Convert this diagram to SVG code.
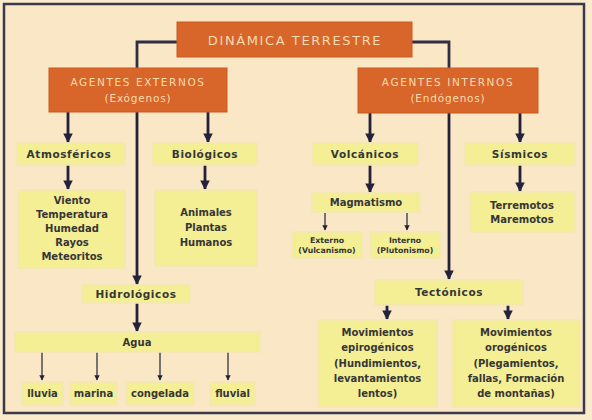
<svg xmlns="http://www.w3.org/2000/svg" width="592" height="420" viewBox="0 0 592 420">
<defs>
<marker id="ah" viewBox="0 0 10 10" refX="9" refY="5" markerWidth="3.4" markerHeight="3.4" orient="auto">
<path d="M0,0 L10,5 L0,10 z" fill="#22223a"/>
</marker>
<marker id="ahs" viewBox="0 0 10 10" refX="9" refY="5" markerWidth="4.5" markerHeight="4.5" orient="auto">
<path d="M0,0 L10,5 L0,10 z" fill="#22223a"/>
</marker>
</defs>
<style>
.or{fill:#d8652a;stroke:#c95a22;stroke-width:1}
.ye{fill:#f4ee94;stroke:#f4e7b4;stroke-width:1.5}
.tw{font-family:"DejaVu Sans","Liberation Sans",sans-serif;fill:#f6dcb0;text-anchor:middle}
.tb{font-family:"DejaVu Sans","Liberation Sans",sans-serif;font-weight:bold;fill:#363636;text-anchor:middle;font-size:10px}
.th{letter-spacing:0.6px;font-size:10.5px}
.ts{font-family:"DejaVu Sans","Liberation Sans",sans-serif;font-weight:bold;fill:#363636;text-anchor:middle;font-size:7.8px}
.ln{fill:none;stroke:#2e2e44;stroke-width:2.8}
.ar{fill:none;stroke:#22223a;stroke-width:2.8;marker-end:url(#ah)}
.as{fill:none;stroke:#22223a;stroke-width:1.2;marker-end:url(#ahs)}
</style>
<rect x="0" y="0" width="592" height="420" fill="#fbebcd"/>
<rect x="4" y="4" width="580" height="409" fill="#fae7c5" stroke="#3a3a4c" stroke-width="2.5"/>

<g id="connectors">
<path class="ln" d="M177,42 H137 V68"/>
<path class="ar" d="M137,112 V284"/>
<path class="ln" d="M412,42 H449 V68"/>
<path class="ar" d="M449,113 V279"/>
<path class="ar" d="M68,112 V142"/>
<path class="ar" d="M208,112 V142"/>
<path class="ar" d="M370,113 V142"/>
<path class="ar" d="M520,113 V142"/>
<path class="ar" d="M68,165 V189"/>
<path class="ar" d="M205,165 V189"/>
<path class="ar" d="M370,165 V192"/>
<path class="ar" d="M520,165 V191"/>
<path class="as" d="M325,213 V230"/>
<path class="as" d="M407,213 V230"/>
<path class="ar" d="M137,303 V331"/>
<path class="ar" d="M387,305 V319"/>
<path class="ar" d="M508,305 V319"/>
<path class="as" d="M42,352 V380"/>
<path class="as" d="M97,352 V380"/>
<path class="as" d="M160,352 V380"/>
<path class="as" d="M228,352 V380"/>
</g>

<g id="dinamica">
<rect class="or" x="177" y="22" width="235" height="35"/>
<text class="tw" x="295" y="45" font-size="13" letter-spacing="1.6">DINÁMICA TERRESTRE</text>
</g>
<g id="externos">
<rect class="or" x="49" y="68" width="178" height="44"/>
<text class="tw" x="138" y="86" font-size="10.5" letter-spacing="1.6">AGENTES EXTERNOS</text>
<text class="tw" x="138" y="102" font-size="10.5" letter-spacing="0.8">(Exógenos)</text>
</g>
<g id="internos">
<rect class="or" x="358" y="68" width="180" height="45"/>
<text class="tw" x="448" y="86" font-size="10.5" letter-spacing="1.6">AGENTES INTERNOS</text>
<text class="tw" x="448" y="102" font-size="10.5" letter-spacing="0.8">(Endógenos)</text>
</g>

<g id="atmosfericos">
<rect class="ye" x="17" y="143" width="108" height="22"/>
<text class="tb th" x="69" y="158">Atmosféricos</text>
</g>
<g id="biologicos">
<rect class="ye" x="153" y="143" width="104" height="22"/>
<text class="tb th" x="205" y="158">Biológicos</text>
</g>
<g id="volcanicos">
<rect class="ye" x="313" y="143" width="105" height="22"/>
<text class="tb th" x="365" y="158">Volcánicos</text>
</g>
<g id="sismicos">
<rect class="ye" x="465" y="143" width="110" height="22"/>
<text class="tb th" x="520" y="158">Sísmicos</text>
</g>

<g id="viento">
<rect class="ye" x="18" y="190" width="107" height="78"/>
<text class="tb" x="72" y="204">Viento</text>
<text class="tb" x="72" y="218">Temperatura</text>
<text class="tb" x="72" y="232">Humedad</text>
<text class="tb" x="72" y="246">Rayos</text>
<text class="tb" x="72" y="260">Meteoritos</text>
</g>
<g id="animales">
<rect class="ye" x="155" y="190" width="102" height="76"/>
<text class="tb" x="206" y="216">Animales</text>
<text class="tb" x="206" y="231">Plantas</text>
<text class="tb" x="206" y="246">Humanos</text>
</g>
<g id="magmatismo">
<rect class="ye" x="312" y="193" width="108" height="19"/>
<text class="tb" x="366" y="206">Magmatismo</text>
</g>
<g id="externo">
<rect class="ye" x="292" y="232" width="70" height="26"/>
<text class="ts" x="327" y="243">Externo</text>
<text class="ts" x="327" y="253">(Vulcanismo)</text>
</g>
<g id="interno">
<rect class="ye" x="370" y="232" width="70" height="26"/>
<text class="ts" x="405" y="243">Interno</text>
<text class="ts" x="405" y="253">(Plutonismo)</text>
</g>
<g id="terremotos">
<rect class="ye" x="470" y="192" width="105" height="40"/>
<text class="tb" x="522" y="209">Terremotos</text>
<text class="tb" x="522" y="223">Maremotos</text>
</g>

<g id="hidrologicos">
<rect class="ye" x="82" y="285" width="108" height="18"/>
<text class="tb th" x="136" y="297.5">Hidrológicos</text>
</g>
<g id="tectonicos">
<rect class="ye" x="375" y="280" width="148" height="25"/>
<text class="tb th" x="449" y="296">Tectónicos</text>
</g>
<g id="agua">
<rect class="ye" x="15" y="332" width="245" height="20"/>
<text class="tb" x="137" y="345.5">Agua</text>
</g>
<g id="lluvia">
<rect class="ye" x="22" y="382" width="41" height="23"/>
<text class="tb" x="42.5" y="397">lluvia</text>
</g>
<g id="marina">
<rect class="ye" x="70" y="382" width="47" height="23"/>
<text class="tb" x="93.5" y="397">marina</text>
</g>
<g id="congelada">
<rect class="ye" x="126" y="382" width="68" height="23"/>
<text class="tb" x="160" y="397">congelada</text>
</g>
<g id="fluvial">
<rect class="ye" x="210" y="382" width="45" height="23"/>
<text class="tb" x="232.5" y="397">fluvial</text>
</g>
<g id="epirogenicos">
<rect class="ye" x="318" y="320" width="119" height="87"/>
<text class="tb" x="377.5" y="336">Movimientos</text>
<text class="tb" x="377.5" y="351">epirogénicos</text>
<text class="tb" x="377.5" y="367">(Hundimientos,</text>
<text class="tb" x="377.5" y="382">levantamientos</text>
<text class="tb" x="377.5" y="397">lentos)</text>
</g>
<g id="orogenicos">
<rect class="ye" x="452" y="320" width="128" height="87"/>
<text class="tb" x="516" y="336">Movimientos</text>
<text class="tb" x="516" y="351">orogénicos</text>
<text class="tb" x="516" y="367">(Plegamientos,</text>
<text class="tb" x="516" y="382">fallas, Formación</text>
<text class="tb" x="516" y="397">de montañas)</text>
</g>
</svg>
